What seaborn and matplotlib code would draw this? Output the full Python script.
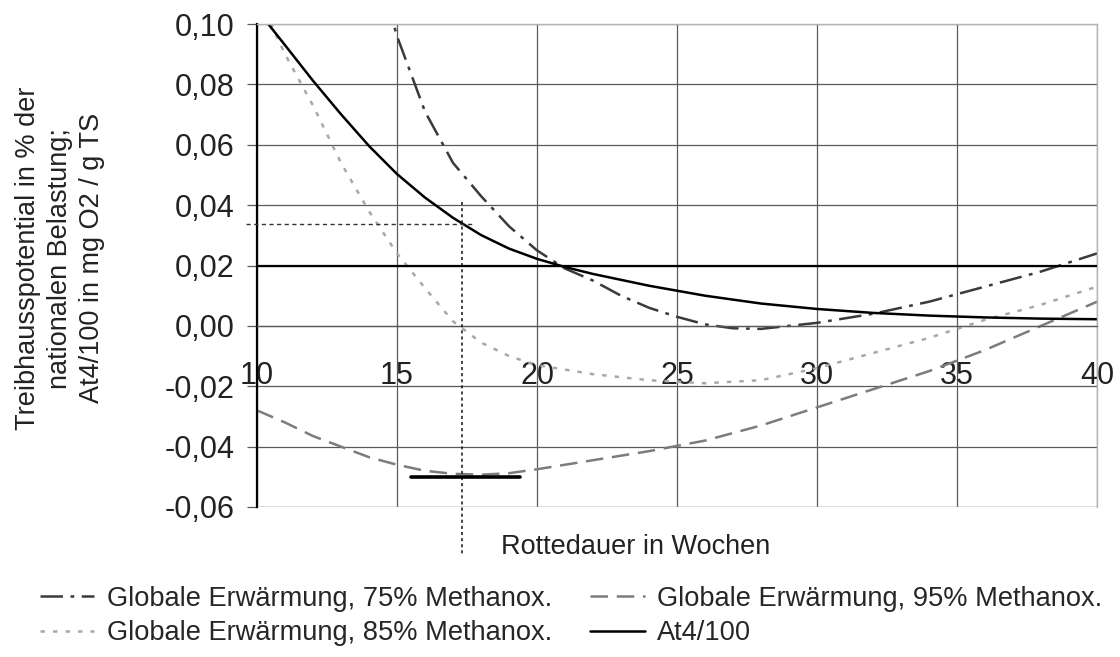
import matplotlib
matplotlib.use("Agg")
import matplotlib.pyplot as plt
import matplotlib.ticker as mticker
import numpy as np
import pandas as pd
import seaborn as sns

# ---------------- data ----------------
x_75 = [14.5, 15, 16, 17, 18, 19, 20, 21, 22, 23, 24, 25, 26, 27, 28, 29, 30, 32, 34, 36, 38, 40]
y_75 = [0.112, 0.096, 0.071, 0.054, 0.043, 0.033, 0.025, 0.019, 0.015, 0.010, 0.006, 0.003,
        0.0005, -0.0008, -0.001, 0.000, 0.001, 0.004, 0.008, 0.013, 0.018, 0.024]

x_85 = [10.3, 11, 12, 13, 14, 15, 16, 17, 18, 19, 20, 21, 22, 24, 26, 28, 30, 32, 34, 36, 38, 40]
y_85 = [0.104, 0.090, 0.073, 0.054, 0.038, 0.024, 0.0125, 0.0015, -0.0055, -0.010, -0.013,
        -0.0145, -0.016, -0.018, -0.019, -0.018, -0.014, -0.009, -0.004, 0.002, 0.007, 0.013]

x_95 = [10, 11, 12, 13, 14, 15, 16, 17, 18, 19, 20, 22, 24, 26, 28, 30, 32, 34, 36, 38, 40]
y_95 = [-0.028, -0.032, -0.0365, -0.040, -0.0435, -0.046, -0.048, -0.049, -0.0493, -0.0488,
        -0.0475, -0.0445, -0.0415, -0.038, -0.033, -0.027, -0.021, -0.015, -0.008, 0.000, 0.008]

x_at4 = [10, 11, 12, 13, 14, 15, 16, 17, 18, 19, 20, 21, 22, 24, 26, 28, 30, 32, 34, 36, 38, 40]
y_at4 = [0.1047, 0.0930, 0.0812, 0.0701, 0.0596, 0.0503, 0.0425, 0.0358, 0.0301, 0.0256, 0.0222,
         0.0195, 0.0172, 0.0133, 0.0100, 0.0074, 0.0056, 0.0043, 0.0034, 0.0028, 0.0024, 0.0022]

series_names = ["Globale Erwärmung, 75% Methanox.",
                "Globale Erwärmung, 85% Methanox.",
                "Globale Erwärmung, 95% Methanox.",
                "At4/100"]

# reference marks
ref_x = 17.32          # read-off Rottedauer
ref_y = 0.0337         # At4/100 at ref_x
threshold_y = 0.02     # black threshold line
bar_y = -0.05          # short black line
bar_x = [15.5, 19.4]

x_ticks = [10, 15, 20, 25, 30, 35, 40]
y_ticks = [-0.06, -0.04, -0.02, 0.00, 0.02, 0.04, 0.06, 0.08, 0.10]

# ---------------- frame ----------------
frames = []
for name, xs, ys in zip(series_names, [x_75, x_85, x_95, x_at4], [y_75, y_85, y_95, y_at4]):
    frames.append(pd.DataFrame({"x": xs, "y": ys, "Serie": name}))
df = pd.concat(frames, ignore_index=True)

sns.set_style("white")
plt.rcParams["font.family"] = ["Liberation Sans", "DejaVu Sans"]

fig = plt.figure(figsize=(11.2, 6.57), dpi=100)
ax = fig.add_axes([257/1120, 1-507/657, 840/1120, 483/657])

palette = {series_names[0]: "#3a3a3a", series_names[1]: "#a8a8a8",
           series_names[2]: "#7c7c7c", series_names[3]: "#000000"}
dashes = {series_names[0]: (9, 3, 1.5, 3), series_names[1]: (1.8, 3.2),
          series_names[2]: (7, 3.5), series_names[3]: ""}

sns.lineplot(data=df, x="x", y="y", hue="Serie", style="Serie", palette=palette,
             dashes=dashes, hue_order=series_names, style_order=series_names,
             linewidth=1.8, ax=ax, legend=True, estimator=None, sort=False)

ax.set_xlim(10, 40)
ax.set_ylim(-0.06, 0.10)
ax.set_xticks(x_ticks)
ax.set_yticks(y_ticks)
ax.yaxis.set_major_formatter(mticker.FuncFormatter(lambda v, p: f"{v + 0.0:.2f}".replace(".", ",")))

# grid
ax.set_axisbelow(True)
ax.grid(True, color="#5a5a5a", linewidth=0.9)

# spines
ax.spines["bottom"].set_position(("data", 0))
ax.spines["bottom"].set_color("#5a5a5a")
ax.spines["bottom"].set_linewidth(0.9)
ax.spines["left"].set_color("#000000")
ax.spines["left"].set_linewidth(1.6)
for s in ("top", "right"):
    ax.spines[s].set_visible(True)
    ax.spines[s].set_color("#b5b5b5")
    ax.spines[s].set_linewidth(1.0)
ax.axhline(-0.06, color="#b5b5b5", linewidth=1.0, zorder=2.6)

ax.tick_params(axis="x", length=0, pad=25, labelsize=22, colors="#222222")
ax.tick_params(axis="y", length=7, width=0.9, color="#5a5a5a", pad=9, labelsize=22,
               labelcolor="#222222", left=True, direction="out")

# reference lines
ax.axhline(threshold_y, color="#000000", linewidth=1.6, zorder=3)
ax.plot([9.6, 17.8], [ref_y, ref_y], color="#333333", linewidth=1.0,
        linestyle=(0, (3, 2.5)), clip_on=False, zorder=3)
ax.plot([ref_x, ref_x], [0.041, -0.076], color="#111111", linewidth=1.1,
        linestyle=(0, (2, 2)), clip_on=False, zorder=3)
ax.plot(bar_x, [bar_y, bar_y], color="#000000", linewidth=2.6, zorder=4)

# labels
ax.set_xlabel("Rottedauer in Wochen", fontsize=19.5, color="#222222")
ax.xaxis.set_label_coords(0.451, -0.056)
ax.set_ylabel("Treibhausspotential in % der\nnationalen Belastung;\nAt4/100 in mg O2 / g TS",
              fontsize=19.5, color="#222222", linespacing=1.3, multialignment="center")
ax.yaxis.label.set_verticalalignment("center")
ax.yaxis.set_label_coords(-0.2345, 0.5155)

# legend
handles, labels = ax.get_legend_handles_labels()
ax.get_legend().remove()
fig.legend(handles, labels, loc="upper left", bbox_to_anchor=(40/1120, 1-586/657),
           ncol=2, frameon=False, fontsize=19.6, handlelength=2.0, handletextpad=0.45,
           columnspacing=1.4, labelspacing=0.3, borderpad=0, borderaxespad=0)

fig.savefig("out.png", dpi=100)
